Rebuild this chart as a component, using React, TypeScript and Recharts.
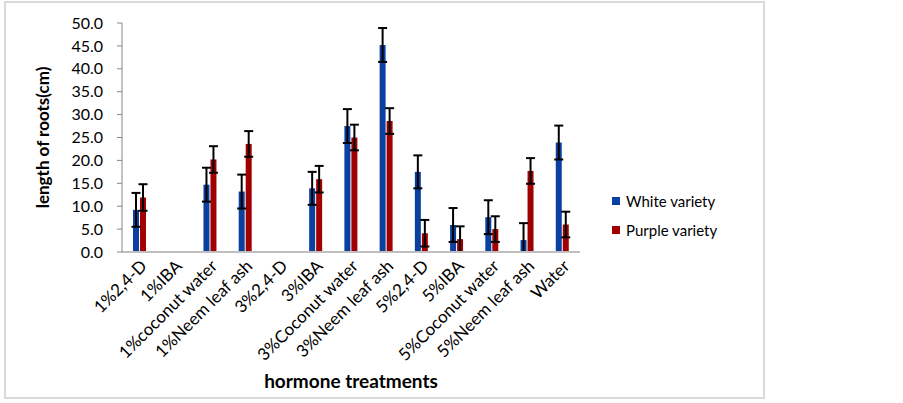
import React from "react";
import {
    Bar,
    BarChart,
    ErrorBar,
    Legend,
    XAxis,
    YAxis,
} from "recharts";

const treatments = [
    "1%2,4-D",
    "1%IBA",
    "1%coconut water",
    "1%Neem leaf ash",
    "3%2,4-D",
    "3%IBA",
    "3%Coconut water",
    "3%Neem leaf ash",
    "5%2,4-D",
    "5%IBA",
    "5%Coconut water",
    "5%Neem leaf ash",
    "Water",
];

const whiteVariety = [9.2, null, 14.7, 13.2, null, 13.9, 27.5, 45.2, 17.5, 5.9, 7.6, 2.6, 23.9];
const whiteError = [3.7, null, 3.7, 3.7, null, 3.6, 3.7, 3.7, 3.6, 3.7, 3.7, 3.7, 3.7];
const purpleVariety = [11.9, null, 20.2, 23.6, null, 15.9, 25.0, 28.6, 4.1, 2.8, 5.0, 17.7, 6.0];
const purpleError = [2.9, null, 2.9, 2.8, null, 2.9, 2.8, 2.8, 2.9, 2.8, 2.8, 2.8, 2.8];

const yTicks = [0, 5, 10, 15, 20, 25, 30, 35, 40, 45, 50];

// error bars are cut off at the axis, as in the original
const clipErr = (v: number | null, e: number | null) =>
    v == null || e == null ? null : [Math.min(v, e), e];

const data = treatments.map((name, i) => ({
    name,
    white: whiteVariety[i],
    whiteErr: clipErr(whiteVariety[i], whiteError[i]),
    purple: purpleVariety[i],
    purpleErr: clipErr(purpleVariety[i], purpleError[i]),
}));

const FONT = "Lato, sans-serif";
const BLUE = "#0A40A0";
const RED = "#A00000";

function AngledTick({ x, y, payload }: any) {
    return (
        <g transform={`translate(${x + 4},${y + 9})`}>
            <text
                x={0}
                y={0}
                dy="0.35em"
                textAnchor="end"
                transform="rotate(-45)"
                fontSize={17}
                fontFamily={FONT}
                fill="#000"
            >
                {payload.value}
            </text>
        </g>
    );
}

function LegendBox() {
    const items = [
        { label: "White variety", color: BLUE },
        { label: "Purple variety", color: RED },
    ];
    return (
        <div style={{ fontFamily: FONT, fontSize: 15 }}>
            {items.map((it) => (
                <div
                    key={it.label}
                    style={{ display: "flex", alignItems: "center", height: 29 }}
                >
                    <span
                        style={{
                            display: "inline-block",
                            width: 8,
                            height: 8,
                            background: it.color,
                            marginRight: 6,
                        }}
                    />
                    <span>{it.label}</span>
                </div>
            ))}
        </div>
    );
}

export default function App() {
    return (
        <div
            style={{
                position: "absolute",
                left: 0,
                top: 0,
                width: 903,
                height: 403,
                background: "#fff",
            }}
        >
            <div
                style={{
                    position: "absolute",
                    left: 4,
                    top: 1,
                    width: 761,
                    height: 398,
                    border: "2px solid #d9d9d9",
                    boxSizing: "border-box",
                }}
            />
            <BarChart
                width={903}
                height={403}
                data={data}
                margin={{ top: 23, right: 323, left: 0, bottom: 0 }}
                barGap={1}
                barSize={6}
            >
                <XAxis
                    dataKey="name"
                    interval={0}
                    height={151}
                    tickLine={false}
                    tickSize={0}
                    tick={<AngledTick />}
                    stroke="#bfbfbf"
                    strokeWidth={2}
                    label={{
                        value: "hormone treatments",
                        position: "insideBottom",
                        offset: 15,
                        fontSize: 19,
                        fontWeight: "bold",
                        fontFamily: FONT,
                        fill: "#000",
                    }}
                />
                <YAxis
                    width={122}
                    domain={[0, 50]}
                    ticks={yTicks}
                    interval={0}
                    allowDataOverflow
                    tickFormatter={(v: number) => v.toFixed(1)}
                    tickSize={5}
                    tickMargin={14}
                    stroke="#868686"
                    tick={{ fontSize: 16, fontFamily: FONT, fill: "#000" }}
                    label={{
                        value: "length of roots(cm)",
                        angle: -90,
                        position: "insideLeft",
                        offset: 43,
                        fontSize: 17,
                        fontWeight: "bold",
                        fontFamily: FONT,
                        fill: "#000",
                        style: { textAnchor: "middle" },
                    }}
                />
                <Legend
                    layout="vertical"
                    verticalAlign="middle"
                    align="center"
                    content={<LegendBox />}
                    wrapperStyle={{ position: "absolute", left: 612, top: 186, width: 150 }}
                />
                <Bar dataKey="white" name="White variety" fill={BLUE} isAnimationActive={false}>
                    <ErrorBar dataKey="whiteErr" width={4.5} strokeWidth={2} stroke="#000" />
                </Bar>
                <Bar dataKey="purple" name="Purple variety" fill={RED} isAnimationActive={false}>
                    <ErrorBar dataKey="purpleErr" width={4.5} strokeWidth={2} stroke="#000" />
                </Bar>
            </BarChart>
        </div>
    );
}
